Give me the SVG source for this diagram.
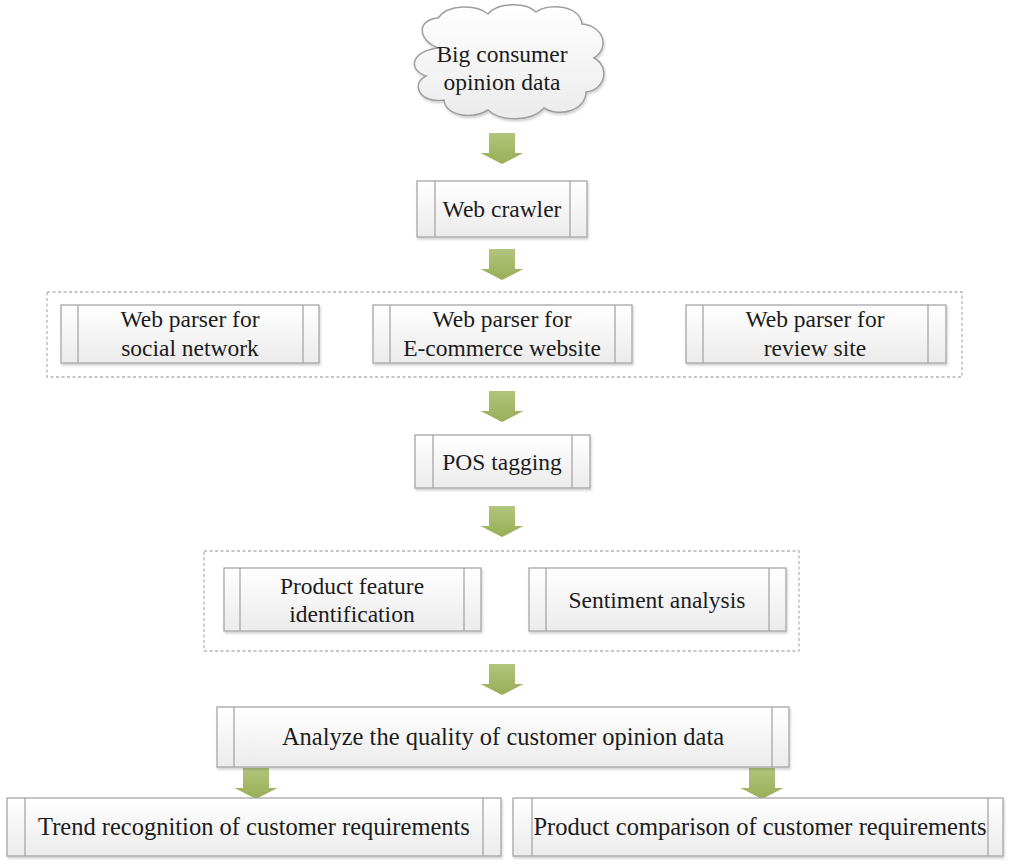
<svg xmlns="http://www.w3.org/2000/svg" width="1009" height="867" viewBox="0 0 1009 867">
<defs>
<linearGradient id="boxg" x1="0" y1="0" x2="0" y2="1">
<stop offset="0" stop-color="#ffffff"/>
<stop offset="1" stop-color="#ebebeb"/>
</linearGradient>
<linearGradient id="arrg" x1="0" y1="0" x2="0" y2="1">
<stop offset="0" stop-color="#b2c57d"/>
<stop offset="1" stop-color="#98ae55"/>
</linearGradient>
<filter id="sh" x="-5%" y="-10%" width="110%" height="130%">
<feDropShadow dx="1" dy="2" stdDeviation="1.2" flood-color="#000" flood-opacity="0.18"/>
</filter>
<path id="arr" d="M-13,0 H13 V20 H21.5 L0,31 L-21.5,20 H-13 Z"/>
</defs>
<style>
.box{fill:url(#boxg);stroke:#a6a6a6;stroke-width:1.3;filter:url(#sh)}
.bar{stroke:#a6a6a6;stroke-width:1.3}
.grp{fill:none;stroke:#b4b4b4;stroke-width:1.3;stroke-dasharray:3,2.5}
.t{font-family:"Liberation Serif","Times New Roman",serif;font-size:23.5px;fill:#1c1c1c;text-anchor:middle}
.tl{font-size:24.5px}
.a{fill:url(#arrg)}
</style>
<rect width="1009" height="867" fill="#ffffff"/>

<g id="groups">
<rect class="grp" x="47" y="292" width="915" height="85"/>
<rect class="grp" x="204" y="551" width="595" height="100"/>
</g>

<g id="connectors">
<use href="#arr" class="a" x="502" y="133"/>
<use href="#arr" class="a" x="502" y="249"/>
<use href="#arr" class="a" x="502" y="391"/>
<use href="#arr" class="a" x="502" y="506"/>
<use href="#arr" class="a" x="502" y="664"/>
<use href="#arr" class="a" x="256" y="768"/>
<use href="#arr" class="a" x="762" y="768"/>
</g>

<g id="cloud">
<path d="M438,48 C418,40 416,20 438,18 C448,4 476,4 488,14 C498,2 526,2 536,12 C550,2 580,6 582,24 C604,26 610,48 594,58 C610,66 606,90 586,92 C586,110 560,118 544,108 C532,122 500,122 488,110 C472,120 446,116 444,100 C420,104 410,84 426,76 C408,70 410,52 438,48 Z" fill="url(#boxg)" stroke="#9e9e9e" stroke-width="1.5" filter="url(#sh)"/>
<text class="t" x="502" y="62">Big consumer</text>
<text class="t" x="502" y="90">opinion data</text>
</g>

<g id="web-crawler">
<rect class="box" x="417" y="181" width="170" height="56"/>
<line class="bar" x1="435" y1="181" x2="435" y2="237"/>
<line class="bar" x1="570" y1="181" x2="570" y2="237"/>
<text class="t" x="502" y="217">Web crawler</text>
</g>

<g id="parser-social">
<rect class="box" x="61" y="305" width="258" height="58"/>
<line class="bar" x1="78" y1="305" x2="78" y2="363"/>
<line class="bar" x1="303" y1="305" x2="303" y2="363"/>
<text class="t" x="190" y="327">Web parser for</text>
<text class="t" x="190" y="356">social network</text>
</g>

<g id="parser-ecommerce">
<rect class="box" x="373" y="305" width="259" height="58"/>
<line class="bar" x1="390" y1="305" x2="390" y2="363"/>
<line class="bar" x1="615" y1="305" x2="615" y2="363"/>
<text class="t" x="502" y="327">Web parser for</text>
<text class="t" x="502" y="356">E-commerce website</text>
</g>

<g id="parser-review">
<rect class="box" x="686" y="305" width="260" height="58"/>
<line class="bar" x1="703" y1="305" x2="703" y2="363"/>
<line class="bar" x1="928" y1="305" x2="928" y2="363"/>
<text class="t" x="815" y="327">Web parser for</text>
<text class="t" x="815" y="356">review site</text>
</g>

<g id="pos-tagging">
<rect class="box" x="415" y="435" width="175" height="53"/>
<line class="bar" x1="433" y1="435" x2="433" y2="488"/>
<line class="bar" x1="572" y1="435" x2="572" y2="488"/>
<text class="t" x="502" y="470">POS tagging</text>
</g>

<g id="product-feature">
<rect class="box" x="224" y="568" width="257" height="63"/>
<line class="bar" x1="240" y1="568" x2="240" y2="631"/>
<line class="bar" x1="464" y1="568" x2="464" y2="631"/>
<text class="t" x="352" y="594">Product feature</text>
<text class="t" x="352" y="622">identification</text>
</g>

<g id="sentiment">
<rect class="box" x="529" y="568" width="257" height="63"/>
<line class="bar" x1="546" y1="568" x2="546" y2="631"/>
<line class="bar" x1="769" y1="568" x2="769" y2="631"/>
<text class="t" x="657" y="608">Sentiment analysis</text>
</g>

<g id="analyze">
<rect class="box" x="217" y="707" width="572" height="60"/>
<line class="bar" x1="234" y1="707" x2="234" y2="767"/>
<line class="bar" x1="772" y1="707" x2="772" y2="767"/>
<text class="t tl" x="503" y="745">Analyze the quality of customer opinion data</text>
</g>

<g id="trend">
<rect class="box" x="7" y="798" width="494" height="58"/>
<line class="bar" x1="25" y1="798" x2="25" y2="856"/>
<line class="bar" x1="483" y1="798" x2="483" y2="856"/>
<text class="t tl" x="254" y="835">Trend recognition of customer requirements</text>
</g>

<g id="comparison">
<rect class="box" x="513" y="798" width="490" height="58"/>
<line class="bar" x1="532" y1="798" x2="532" y2="856"/>
<line class="bar" x1="988" y1="798" x2="988" y2="856"/>
<text class="t tl" x="760" y="835">Product comparison of customer requirements</text>
</g>
</svg>
